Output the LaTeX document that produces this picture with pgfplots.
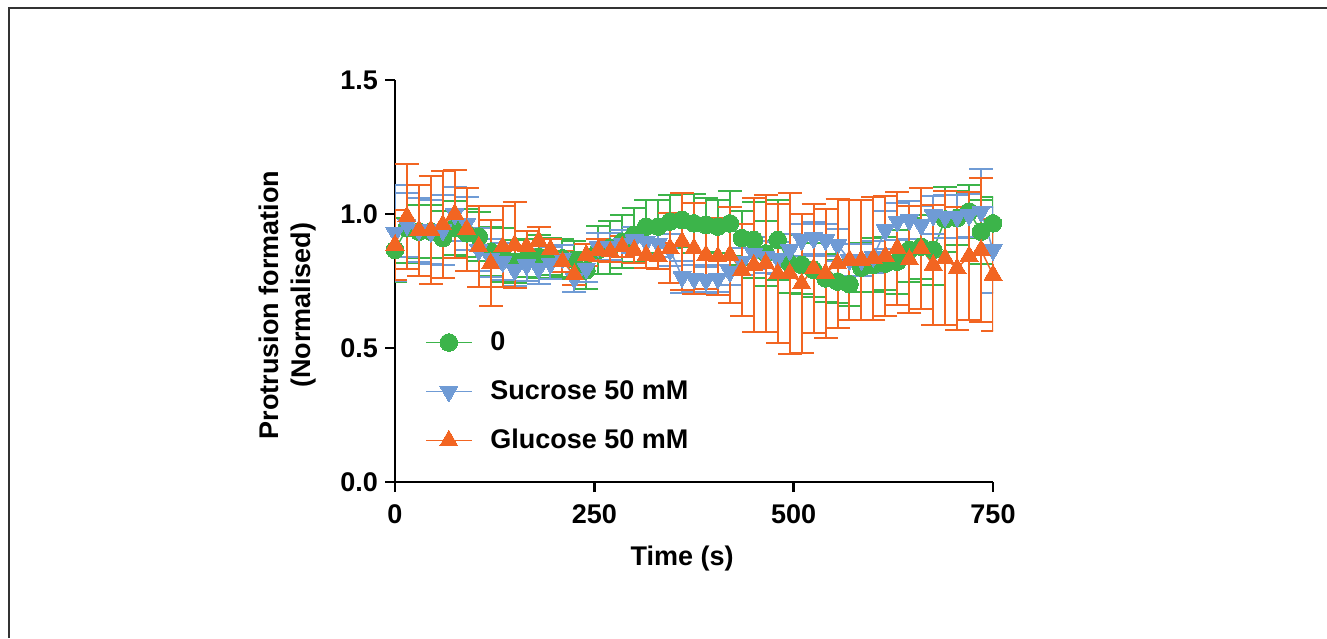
\documentclass[border=0pt]{standalone}
\usepackage{fontspec}
\setmainfont{Liberation Sans}
\usepackage{pgfplots}
\usepackage{pgfplotstable}
\pgfplotsset{compat=1.18}

\definecolor{cgreen}{HTML}{3CB44A}
\definecolor{cblue}{HTML}{6F9BD5}
\definecolor{corange}{HTML}{F26522}

% time, mean, error
\pgfplotstableread{
t y e
0 0.866 0.12
15 0.947 0.13
30 0.934 0.10
45 0.934 0.10
60 0.910 0.10
75 0.947 0.10
90 0.928 0.09
105 0.916 0.09
120 0.860 0.09
135 0.847 0.10
150 0.822 0.08
165 0.835 0.07
180 0.841 0.08
195 0.841 0.07
210 0.835 0.07
225 0.829 0.07
240 0.790 0.07
255 0.866 0.09
270 0.875 0.10
285 0.897 0.10
300 0.922 0.10
315 0.953 0.10
330 0.953 0.10
345 0.972 0.10
360 0.978 0.10
375 0.965 0.11
390 0.959 0.10
405 0.953 0.10
420 0.965 0.12
435 0.910 0.10
450 0.903 0.14
465 0.853 0.12
480 0.903 0.15
495 0.816 0.11
510 0.810 0.11
525 0.791 0.10
540 0.760 0.09
555 0.748 0.08
570 0.738 0.08
585 0.800 0.09
600 0.810 0.10
615 0.815 0.10
630 0.822 0.12
645 0.866 0.12
660 0.878 0.12
675 0.866 0.13
690 0.980 0.12
705 0.985 0.10
720 1.009 0.10
735 0.934 0.12
750 0.965 0.10
}\ctrl

\pgfplotstableread{
t y e
0 0.930 0.18
15 0.960 0.12
30 0.940 0.12
45 0.934 0.12
60 0.940 0.13
75 1.000 0.10
90 0.965 0.10
105 0.866 0.08
120 0.835 0.07
135 0.822 0.07
150 0.791 0.06
165 0.810 0.06
180 0.797 0.06
195 0.816 0.06
210 0.835 0.05
225 0.760 0.05
240 0.797 0.05
255 0.878 0.05
270 0.878 0.05
285 0.890 0.05
300 0.903 0.05
315 0.897 0.05
330 0.890 0.05
345 0.866 0.06
360 0.766 0.06
375 0.760 0.05
390 0.754 0.05
405 0.760 0.05
420 0.785 0.05
435 0.822 0.05
450 0.853 0.06
465 0.841 0.06
480 0.835 0.06
495 0.866 0.06
510 0.903 0.06
525 0.910 0.06
540 0.903 0.06
555 0.885 0.06
570 0.829 0.06
585 0.829 0.06
600 0.841 0.06
615 0.940 0.07
630 0.972 0.07
645 0.978 0.07
660 0.959 0.07
675 0.996 0.07
690 0.990 0.08
705 0.990 0.08
720 0.996 0.08
735 1.009 0.16
750 0.866 0.16
}\sucrose

\pgfplotstableread{
t y e
0 0.885 0.13
15 0.990 0.195
30 0.940 0.17
45 0.940 0.20
60 0.960 0.20
75 1.000 0.165
90 0.943 0.155
105 0.878 0.15
120 0.816 0.16
135 0.878 0.15
150 0.885 0.16
165 0.878 0.06
180 0.900 0.05
195 0.868 0.04
210 0.822 0.04
225 0.775 0.04
240 0.847 0.04
255 0.866 0.04
270 0.860 0.04
285 0.878 0.04
300 0.866 0.05
315 0.847 0.05
330 0.843 0.05
345 0.872 0.13
360 0.897 0.18
375 0.872 0.17
390 0.847 0.125
405 0.841 0.145
420 0.847 0.18
435 0.791 0.17
450 0.810 0.25
465 0.816 0.255
480 0.779 0.26
495 0.779 0.30
510 0.741 0.26
525 0.797 0.24
540 0.779 0.24
555 0.816 0.24
570 0.829 0.225
585 0.829 0.225
600 0.835 0.23
615 0.843 0.225
630 0.872 0.21
645 0.831 0.20
660 0.872 0.225
675 0.810 0.225
690 0.835 0.25
705 0.797 0.23
720 0.843 0.24
735 0.866 0.27
750 0.773 0.21
}\glucose

\begin{document}
\begin{tikzpicture}
\useasboundingbox (0,0) rectangle (663.5pt,319pt);
\draw[line width=1pt, black!80] (4.25pt,0) -- (4.25pt,314.75pt) -- (663.5pt,314.75pt);
\begin{axis}[
    at={(197.5pt,78pt)}, anchor=south west,
    scale only axis, width=299pt, height=201pt,
    xmin=0, xmax=750, ymin=0, ymax=1.5,
    axis x line*=bottom, axis y line*=left,
    axis line style={line width=1.25pt, -},
    xtick={0,250,500,750}, ytick={0,0.5,1,1.5},
    tick align=outside, major tick length=5pt,
    every tick/.style={black, line width=1.25pt},
    /pgf/number format/assume math mode=true,
    font=\fontsize{13.5}{16}\selectfont\bfseries,
    yticklabel style={/pgf/number format/.cd, fixed, fixed zerofill, precision=1},
    xticklabel style={yshift=-3pt},
    xlabel={Time (s)},
    ylabel={Protrusion formation\\(Normalised)},
    ylabel style={align=center, at={(axis description cs:-0.18,0.44)}, anchor=center},
    xlabel style={at={(axis description cs:0.48,-0.19)}, anchor=center},
    error bars/y dir=both, error bars/y explicit,
    error bars/error bar style={line width=1pt},
    error bars/error mark options={rotate=90, mark size=6pt, line width=1pt},
    legend style={draw=none, fill=none, at={(axis description cs:0.04,0.395)}, anchor=north west,
        row sep=9.5pt, /tikz/every odd column/.append style={column sep=7pt}},
    legend cell align=left,
    legend image code/.code={\draw[mark repeat=2, mark phase=2] plot coordinates {(0cm,0cm) (0.4cm,0cm) (0.8cm,0cm)};},
]
\addplot[cgreen, line width=0.75pt, mark=*, mark size=4.4pt, mark options={fill=cgreen, draw=cgreen, line width=0pt}]
    table[x=t, y=y, y error=e] {\ctrl};
\addlegendentry{0}
\addplot[cblue, line width=0.75pt, mark=triangle*, mark size=5.2pt, mark options={rotate=180, fill=cblue, draw=cblue, line width=0pt}]
    table[x=t, y=y, y error=e] {\sucrose};
\addlegendentry{Sucrose 50 mM}
\addplot[corange, line width=0.75pt, mark=triangle*, mark size=5.2pt, mark options={fill=corange, draw=corange, line width=0pt}]
    table[x=t, y=y, y error=e] {\glucose};
\addlegendentry{Glucose 50 mM}
\end{axis}
\end{tikzpicture}
\end{document}
